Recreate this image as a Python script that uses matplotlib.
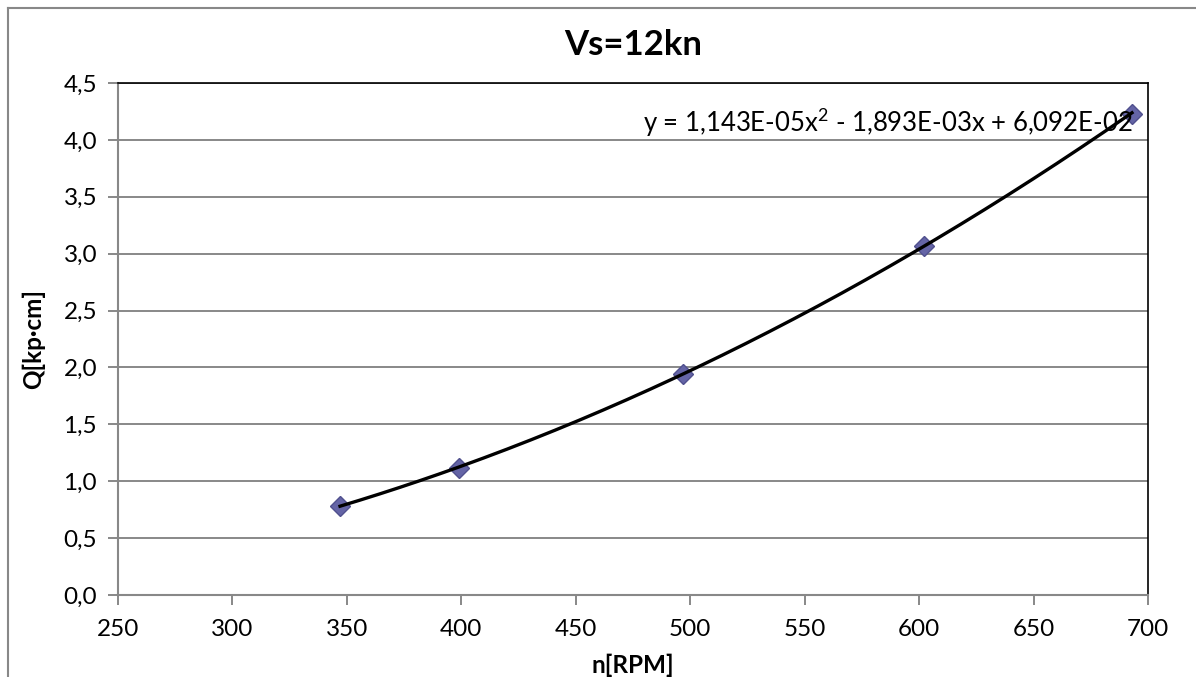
import numpy as np
import matplotlib.pyplot as plt
from matplotlib.ticker import FuncFormatter, MultipleLocator
from matplotlib.lines import Line2D

# measured points
rpm = [347, 399, 497, 602, 693]
torque = [0.78, 1.12, 1.94, 3.07, 4.23]

# 2nd order polynomial trendline coefficients (highest power first)
coef = [1.143e-05, -1.893e-03, 6.092e-02]
eq_label = 'y = 1,143E-05x$^{2}$ - 1,893E-03x + 6,092E-02'

plt.rcParams['font.family'] = ['Lato', 'DejaVu Sans']
plt.rcParams['mathtext.fontset'] = 'custom'
plt.rcParams['mathtext.rm'] = 'Lato'
plt.rcParams['mathtext.default'] = 'regular'

fig = plt.figure(figsize=(11.96, 6.77), dpi=100)
ax = fig.add_axes([118 / 1196, 1 - 595 / 677, 1030 / 1196, 512 / 677])

grey = '#888888'

# chart frame (left and top edges only show)
fig.add_artist(Line2D([8 / 1196, 8 / 1196], [0, 1 - 8 / 677], color=grey, lw=1.5,
                      transform=fig.transFigure))
fig.add_artist(Line2D([8 / 1196, 1], [1 - 8 / 677, 1 - 8 / 677], color=grey, lw=1.5,
                      transform=fig.transFigure))

# trendline
xs = np.linspace(min(rpm), max(rpm), 200)
ax.plot(xs, np.polyval(coef, xs), color='black', lw=2.4, zorder=3)
ax.plot(rpm, torque, linestyle='none', marker='D', markersize=10,
        color='#6464A6', markeredgecolor='#50508E', zorder=2)

ax.set_xlim(250, 700)
ax.set_ylim(0, 4.5)
ax.xaxis.set_major_locator(MultipleLocator(50))
ax.yaxis.set_major_locator(MultipleLocator(0.5))
ax.yaxis.set_major_formatter(FuncFormatter(lambda v, p: f'{v:.1f}'.replace('.', ',')))
ax.grid(axis='y', color=grey, lw=1.4)
ax.set_axisbelow(True)

for s in ['left', 'bottom']:
    ax.spines[s].set_color(grey)
    ax.spines[s].set_linewidth(1.5)
for s in ['top', 'right']:
    ax.spines[s].set_color('black')
    ax.spines[s].set_linewidth(1.2)

ax.tick_params(axis='both', direction='out', length=7, width=1.4, color=grey,
               labelsize=17.5, pad=8)
ax.tick_params(axis='x', pad=10)

ax.text(0.985, 0.922, eq_label, transform=ax.transAxes, ha='right', va='center',
        fontsize=18.5)

fig.text(633 / 1196, 1 - 45 / 677, 'Vs=12kn', ha='center', va='center',
         fontsize=25, fontweight='bold')
fig.text(633 / 1196, 1 - 665 / 677, 'n[RPM]', ha='center', va='center',
         fontsize=17.5, fontweight='bold')
fig.text(33 / 1196, 1 - 339 / 677, 'Q[kp·cm]', ha='center', va='center',
         fontsize=17.5, fontweight='bold', rotation=90)

fig.savefig('out.png', dpi=100)
